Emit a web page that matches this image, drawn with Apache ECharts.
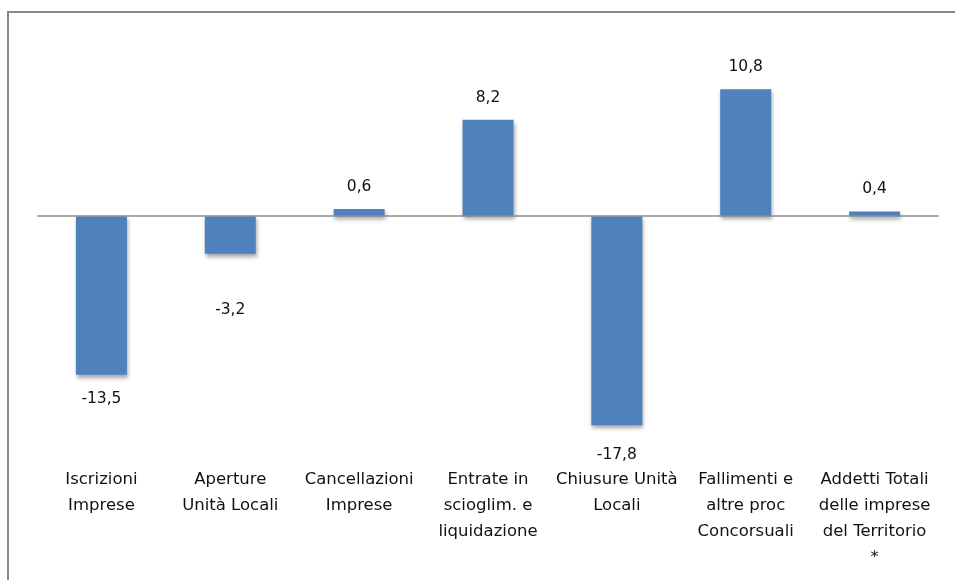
<!DOCTYPE html>
<html>
<head>
<meta charset="utf-8">
<script src="https://cdn.jsdelivr.net/npm/echarts@6/dist/echarts.min.js"></script>
<style>
  html, body { margin: 0; padding: 0; background: #fff; }
  #chart { width: 955px; height: 580px; }
</style>
</head>
<body>
<div id="chart"></div>
<script>
// Categories (multi-line axis labels)
const categories = [
  'Iscrizioni\nImprese',
  'Aperture\nUnità Locali',
  'Cancellazioni\nImprese',
  'Entrate in\nscioglim. e\nliquidazione',
  'Chiusure Unità\nLocali',
  'Fallimenti e\naltre proc\nConcorsuali',
  'Addetti Totali\ndelle imprese\ndel Territorio\n*'
];

// Percentage change per category
const values = [-13.5, -3.2, 0.6, 8.2, -17.8, 10.8, 0.4];

// Extra gap between each bar end and its value label
const labelGap = [16, 48, 14, 14, 22, 14, 14];

const fmt = v => v.toFixed(1).replace('.', ',');

const chart = echarts.init(document.getElementById('chart'), null, { renderer: 'canvas' });

chart.setOption({
  animation: false,
  backgroundColor: '#ffffff',
  textStyle: { fontFamily: 'DejaVu Sans' },
  graphic: [{
    type: 'rect',
    silent: true,
    shape: { x: 8, y: 12, width: 980, height: 620 },
    style: { fill: 'none', stroke: '#8a8a8a', lineWidth: 2 }
  }],
  grid: { left: 37, right: 16, top: 40, height: 411 },
  xAxis: {
    type: 'category',
    data: categories,
    axisLine: { show: false, onZero: false },
    axisTick: { show: false },
    axisLabel: {
      interval: 0,
      margin: 16,
      color: '#111',
      fontSize: 16.5,
      lineHeight: 26,
      fontFamily: 'DejaVu Sans'
    }
  },
  yAxis: {
    type: 'value',
    min: -20,
    max: 15,
    show: false,
    splitLine: { show: false }
  },
  series: [{
    type: 'bar',
    barWidth: 51,
    data: values.map((v, i) => ({
      value: v,
      label: {
        position: v < 0 ? 'bottom' : 'top',
        distance: labelGap[i]
      }
    })),
    itemStyle: {
      color: '#4f81bd',
      shadowColor: 'rgba(0,0,0,0.35)',
      shadowBlur: 4,
      shadowOffsetX: 1,
      shadowOffsetY: 3
    },
    label: {
      show: true,
      color: '#111',
      fontSize: 15.5,
      fontFamily: 'DejaVu Sans',
      formatter: p => fmt(p.value)
    },
    markLine: {
      silent: true,
      symbol: ['none', 'none'],
      label: { show: false },
      lineStyle: { color: '#8c8c8c', width: 1.5, type: 'solid' },
      data: [{ yAxis: 0 }]
    },
    z: 3
  }]
});
</script>
</body>
</html>
